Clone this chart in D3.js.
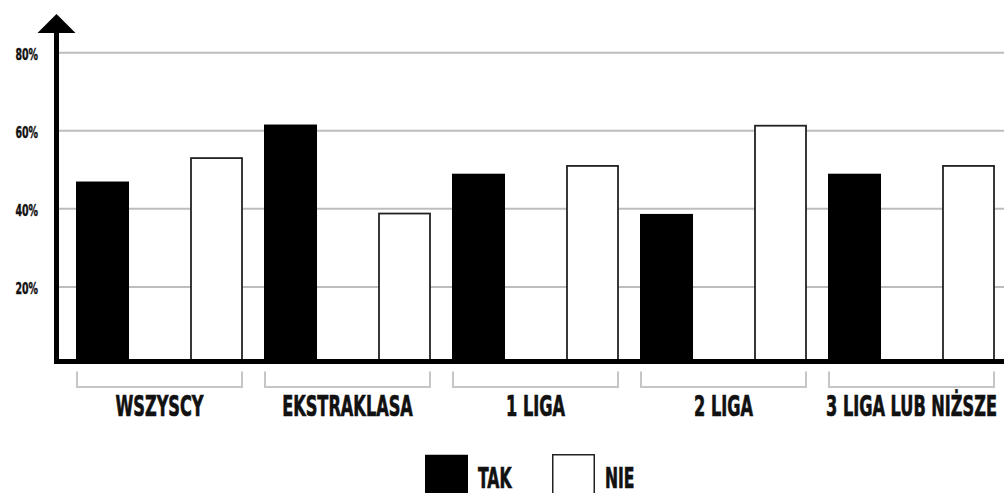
<!DOCTYPE html>
<html>
<head>
<meta charset="utf-8">
<script src="https://cdn.jsdelivr.net/npm/d3@7"></script>
<style>
  html, body { margin: 0; padding: 0; background: #fff; }
  svg { display: block; }
  .lbl { font-family: "DejaVu Sans Condensed", "Liberation Sans Narrow", "Roboto", sans-serif; font-weight: bold; fill: #111; stroke: #111; stroke-width: 0.7; }
</style>
</head>
<body>
<svg id="chart" width="1004" height="493"></svg>
<script>
// Survey answers (percent) per league level
const categories = ["WSZYSCY", "EKSTRAKLASA", "1 LIGA", "2 LIGA", "3 LIGA LUB NIŻSZE"];
const series = ["TAK", "NIE"];
const takValues = [47, 61.6, 49, 38.7, 49];
const nieValues = [53, 38.8, 51, 61.3, 51];
const yTicks = [20, 40, 60, 80];
const yTickLabels = ["20%", "40%", "60%", "80%"];

const svg = d3.select("#chart");
const W = 1004;

const x0 = d3.scaleBand().domain(categories).range([65.5, 1005.5])
  .paddingInner(21 / 188).paddingOuter(21 / 376);
const x1 = d3.scaleBand().domain(series).range([0, x0.bandwidth()])
  .paddingInner(0.535).paddingOuter(0);
const y = d3.scaleLinear().domain([0, 80]).range([365, 52.7]);

const axisX = 56.5;
const base = y(0) - 3.5;

// horizontal gridlines
svg.append("g").selectAll("line").data(yTicks).join("line")
  .attr("x1", axisX).attr("x2", W)
  .attr("y1", d => y(d)).attr("y2", d => y(d))
  .attr("stroke", "#bdbdbd").attr("stroke-width", 2);

// tick labels
svg.append("g").selectAll("text").data(yTicks).join("text")
  .attr("class", "lbl")
  .attr("text-anchor", "end")
  .attr("font-size", 15)
  .style("stroke-width", 0.4)
  .attr("transform", d => `translate(38,${y(d) + 7.5}) scale(0.7,1)`)
  .text((d, i) => yTickLabels[i]);

// bars
const rows = categories.map((c, i) => ({ cat: c, vals: [takValues[i], nieValues[i]] }));
const groups = svg.append("g").selectAll("g").data(rows).join("g")
  .attr("transform", d => `translate(${x0(d.cat)},0)`);

groups.selectAll("rect").data(d => d.vals.map((v, j) => ({ key: series[j], v })))
  .join("rect")
  .attr("x", d => x1(d.key) + (d.key === "NIE" ? 1 : 0))
  .attr("width", d => x1.bandwidth() - (d.key === "NIE" ? 2 : 0))
  .attr("y", d => y(d.v))
  .attr("height", d => base - y(d.v))
  .attr("fill", d => d.key === "TAK" ? "#000" : "#fff")
  .attr("stroke", d => d.key === "TAK" ? "none" : "#222")
  .attr("stroke-width", 1.8);

// brackets under each group
svg.append("g").selectAll("path").data(categories).join("path")
  .attr("d", c => {
    const a = x0(c) + 1, b = x0(c) + x0.bandwidth() - 1;
    return `M${a},${base + 10}V${base + 25.5}H${b}V${base + 10}`;
  })
  .attr("fill", "none").attr("stroke", "#c6c6c6").attr("stroke-width", 2);

// category labels
svg.append("g").selectAll("text").data(categories).join("text")
  .attr("class", "lbl")
  .attr("text-anchor", "middle")
  .attr("font-size", 29)
  .attr("transform", c => `translate(${x0(c) + x0.bandwidth() / 2},416) scale(0.62,1)`)
  .text(c => c);

// baseline
svg.append("line")
  .attr("x1", axisX - 2.5).attr("x2", W)
  .attr("y1", base).attr("y2", base)
  .attr("stroke", "#000").attr("stroke-width", 5);

// vertical axis with arrow head
svg.append("line")
  .attr("x1", axisX).attr("x2", axisX)
  .attr("y1", 30).attr("y2", base + 2.5)
  .attr("stroke", "#000").attr("stroke-width", 5);
svg.append("path")
  .attr("d", `M${axisX - 19},33L${axisX + 19},33L${axisX},14Z`)
  .attr("fill", "#000");

// legend
const legend = svg.append("g");
const legendItems = [
  { key: "TAK", bx: 425, tx: 478 },
  { key: "NIE", bx: 552, tx: 605 }
];
legend.selectAll("rect").data(legendItems).join("rect")
  .attr("x", d => d.bx + (d.key === "NIE" ? 0.75 : 0))
  .attr("y", 454.75)
  .attr("width", d => 43 - (d.key === "NIE" ? 1.5 : 0))
  .attr("height", 44)
  .attr("fill", d => d.key === "TAK" ? "#000" : "#fff")
  .attr("stroke", d => d.key === "TAK" ? "none" : "#222")
  .attr("stroke-width", 1.5);
legend.selectAll("text").data(legendItems).join("text")
  .attr("class", "lbl")
  .attr("font-size", 28)
  .attr("transform", d => `translate(${d.tx},487.5) scale(0.62,1)`)
  .text(d => d.key);
</script>
</body>
</html>
